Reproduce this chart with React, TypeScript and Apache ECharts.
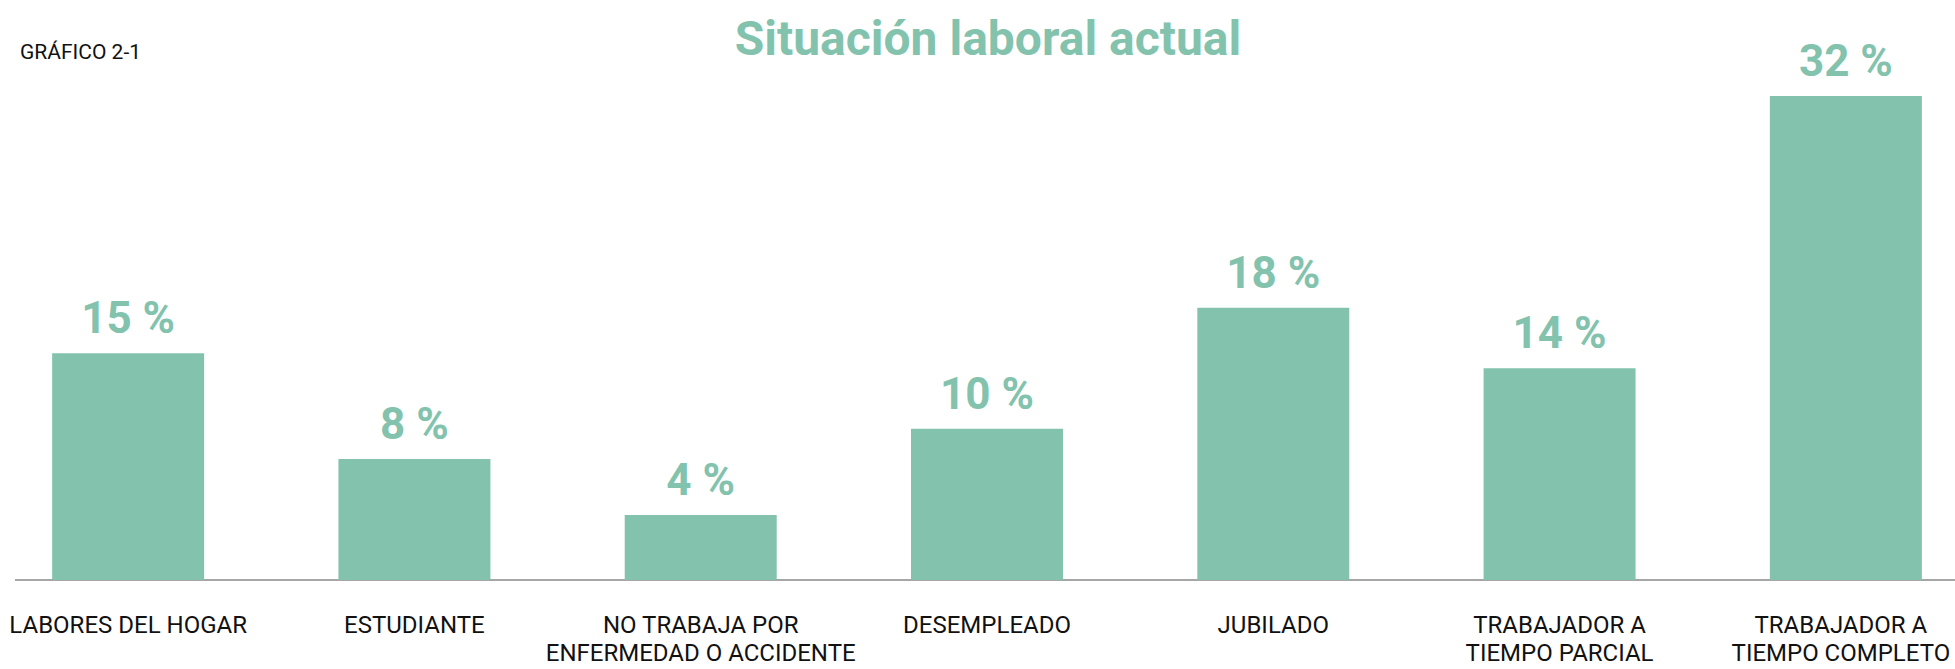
import React, { useEffect, useRef } from "react";
import * as echarts from "echarts";

const categories: string[] = [
  "LABORES DEL HOGAR",
  "ESTUDIANTE",
  "NO TRABAJA POR\nENFERMEDAD O ACCIDENTE",
  "DESEMPLEADO",
  "JUBILADO",
  "TRABAJADOR A\nTIEMPO PARCIAL",
  "TRABAJADOR A\nTIEMPO COMPLETO",
];
const values: number[] = [15, 8, 4.3, 10, 18, 14, 32];
const titleText = "Situación laboral actual";
const subtitleText = "GRÁFICO 2-1";

const GREEN = "#83c3ae";
const FONT = "Roboto, 'Liberation Sans', sans-serif";
// chart canvas is offset 15px to the left of the page
const OFF = 15;

export default function App() {
  const ref = useRef<HTMLDivElement>(null);
  useEffect(() => {
    document.body.style.margin = "0";
    document.body.style.overflow = "hidden";
    if (!ref.current) return;
    const chart = echarts.init(ref.current, undefined, { renderer: "svg", width: 2004, height: 669 });
    const last = categories.length - 1;
    chart.setOption({
      animation: false,
      backgroundColor: "#ffffff",
      title: [
        {
          text: titleText,
          left: 983 + OFF,
          textAlign: "center",
          top: 9,
          textStyle: {
            fontFamily: FONT,
            fontWeight: "bold",
            fontSize: 48,
            color: GREEN,
          },
        },
        {
          text: subtitleText,
          left: 15 + OFF,
          top: 36,
          textStyle: {
            fontFamily: FONT,
            fontWeight: "normal",
            fontSize: 21,
            color: "#111111",
          },
        },
      ],
      grid: {
        left: 0,
        right: 0,
        top: 96,
        bottom: 89,
        containLabel: false,
        outerBoundsMode: "none",
      },
      xAxis: {
        type: "category",
        data: categories.map((c, i) =>
          i === last ? { value: c, textStyle: { padding: [0, 10, 0, 0] } } : c
        ),
        axisLine: { show: false },
        axisTick: { show: false },
        axisLabel: {
          interval: 0,
          margin: 31,
          fontFamily: FONT,
          fontSize: 24,
          lineHeight: 28,
          color: "#111111",
        },
      },
      yAxis: {
        type: "value",
        min: 0,
        max: 32,
        show: false,
        splitLine: { show: false },
      },
      graphic: [
        {
          type: "line",
          shape: { x1: 15 + OFF, y1: 580, x2: 1955 + OFF, y2: 580 },
          style: { stroke: "#a6a6a6", lineWidth: 2 },
          z: 0,
        },
      ],
      series: [
        {
          type: "bar",
          data: values,
          barWidth: 152,
          z: 5,
          itemStyle: { color: GREEN },
          label: {
            show: true,
            position: "top",
            distance: 13,
            fontFamily: FONT,
            fontWeight: "bold",
            fontSize: 44,
            color: GREEN,
            formatter: (p: any) => `${Math.round(p.value)} %`,
          },
        },
      ],
    });
    return () => chart.dispose();
  }, []);
  return (
    <div style={{ width: 1955, height: 669, overflow: "hidden", position: "relative" }}>
      <div
        ref={ref}
        style={{ position: "absolute", left: -OFF, top: 0, width: 2004, height: 669 }}
      />
    </div>
  );
}
